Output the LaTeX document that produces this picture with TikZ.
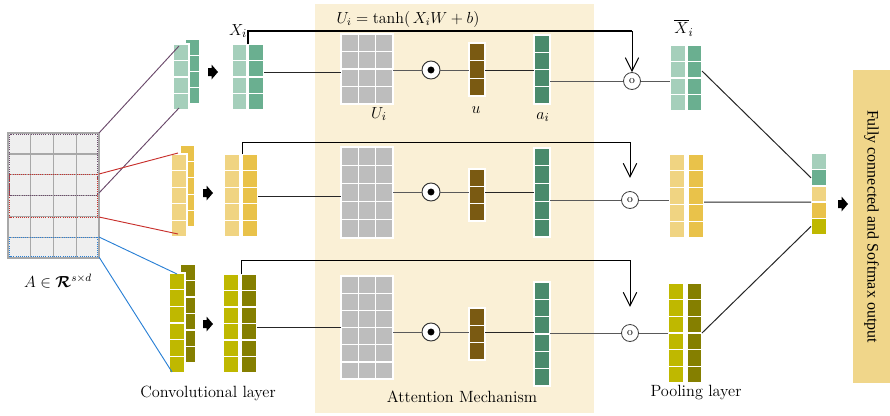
\documentclass[tikz,border=0pt]{standalone}
\usepackage{amsmath,amssymb,bm}
\usepackage{fontspec}
\newfontfamily\timesf{Liberation Serif}
\usetikzlibrary{arrows.meta,calc}
\definecolor{lgreen}{HTML}{A5CFBB}
\definecolor{dgreen}{HTML}{6AAF90}
\definecolor{agreen}{HTML}{4A8A6C}
\definecolor{lyel}{HTML}{F0D482}
\definecolor{dyel}{HTML}{E9C24A}
\definecolor{lolive}{HTML}{BFB800}
\definecolor{dolive}{HTML}{857F00}
\definecolor{ubrown}{HTML}{7A5A12}
\definecolor{ugray}{HTML}{BDBDBD}
\definecolor{attbg}{HTML}{FAF0D6}
\definecolor{fcbg}{HTML}{F0D68A}
\definecolor{acell}{HTML}{EFEFEF}
\definecolor{aline}{HTML}{A8A8A8}
\definecolor{purp}{HTML}{6B4A6B}
\definecolor{redl}{HTML}{C8302C}
\definecolor{bluel}{HTML}{2A80D5}
% column of cells: name, x1, y1, x2, y2, n, colour
\newcommand\cellcol[7]{%
  \node[colbox, fill=#7, minimum width={(#4-#2)*0.75pt}, minimum height={(#5-#3)*0.75pt}] (#1) at ({(#2+#4)/2},{(#3+#5)/2}) {};
  \foreach \k in {1,...,#6}{\ifnum\k<#6\relax \draw[white, line width=1pt] ({#2},{#3+\k*(#5-#3)/#6}) -- ({#4},{#3+\k*(#5-#3)/#6});\fi}%
}
% grid matrix: name, x1, y1, x2, y2, cols, rows, fill, line
\newcommand\gridmat[9]{%
  \node[draw=#9, fill=#8, line width=1pt, inner sep=0pt, outer sep=0pt, minimum width={(#4-#2)*0.75pt}, minimum height={(#5-#3)*0.75pt}] (#1) at ({(#2+#4)/2},{(#3+#5)/2}) {};
  \foreach \k in {1,...,#6}{\ifnum\k<#6\relax \draw[#9, line width=1pt] ({#2+\k*(#4-#2)/#6},{#3}) -- ({#2+\k*(#4-#2)/#6},{#5});\fi}%
  \foreach \k in {1,...,#7}{\ifnum\k<#7\relax \draw[#9, line width=1pt] ({#2},{#3+\k*(#5-#3)/#7}) -- ({#4},{#3+\k*(#5-#3)/#7});\fi}%
}
% block arrow, tip at (x,y)
\newcommand\blockarrow[2]{%
  \fill[black] ({#1-10},{#2-4}) -- ({#1-6.5},{#2-4}) -- ({#1-6.5},{#2-7.5}) -- ({#1},{#2}) -- ({#1-6.5},{#2+7.5}) -- ({#1-6.5},{#2+4}) -- ({#1-10},{#2+4}) -- cycle;%
}
\begin{document}
\begin{tikzpicture}[x=0.75pt,y=-0.75pt,
  colbox/.style={draw=white,line width=1pt,inner sep=0pt,outer sep=0pt},
  conn/.style={draw=black!85,line width=0.75pt},
  topline/.style={draw=black,line width=0.75pt},
  lab/.style={font=\fontsize{12.5}{14}\selectfont,inner sep=0pt},
  txt/.style={font=\fontsize{12.2}{14}\selectfont,inner sep=0pt},
  dotc/.style={circle,draw=black!80,fill=white,line width=0.7pt,minimum size=13.5pt,inner sep=0pt},
  ocirc/.style={circle,draw=black!75,fill=white,line width=0.6pt,minimum size=12.75pt,inner sep=0pt,font=\fontsize{8.5}{8.5}\selectfont},
  barb/.style={-{Straight Barb[length=10pt,width=10pt,line width=0.75pt]}}]
\useasboundingbox (0,0) rectangle (890,415);
% attention background
\fill[attbg] (315,4) rectangle (594,413);
% input matrix A
\gridmat{A}{8}{133}{99}{258}{4}{6}{acell}{aline}
\draw[purp, densely dotted, line width=0.6pt] (9.5,134.5) rectangle (97.5,195);
\draw[redl, densely dotted, line width=0.6pt] (9.5,174) rectangle (97.5,217);
\draw[bluel, densely dotted, line width=0.6pt] (9.5,237) rectangle (97.5,256.5);
% convolutional layer stacks
\cellcol{cb1}{185}{39}{200}{104}{4}{dgreen}
\cellcol{cf1}{173}{44}{189}{110}{4}{lgreen}
\cellcol{cb2}{180}{145}{195}{227}{5}{dyel}
\cellcol{cf2}{171}{154}{187}{237}{5}{lyel}
\cellcol{cb3}{180}{264}{196}{363}{6}{dolive}
\cellcol{cf3}{169}{273}{185}{373}{6}{lolive}
% lines from A to stacks
\draw[purp, line width=0.7pt] (A.north east) -- ($(cf1.north west)+(6,2)$);
\draw[purp, line width=0.7pt] ($(A.north east)+(0,60)$) -- ($(cf1.south west)+(6,-2)$);
\draw[redl, line width=0.7pt] ($(A.north east)+(0,41)$) -- ($(cf2.north west)+(7,-1)$);
\draw[redl, line width=0.7pt] ($(A.north east)+(0,84)$) -- ($(cf2.south west)+(7,-3)$);
\draw[bluel, line width=0.7pt] ($(A.north east)+(0,104)$) -- ($(cf3.north west)+(8,1)$);
\draw[bluel, line width=0.7pt] ($(A.north east)+(0,124)$) -- ($(cf3.south west)+(3,-1)$);
% block arrows
\blockarrow{218}{72}
\blockarrow{213}{193}
\blockarrow{213}{324}
\blockarrow{848}{204}
% X blocks
\cellcol{xl1}{232}{44}{247}{110}{4}{lgreen}
\cellcol{xd1}{248}{44}{264}{110}{4}{dgreen}
\cellcol{xl2}{224}{154}{240}{237}{5}{lyel}
\cellcol{xd2}{242}{154}{258}{237}{5}{dyel}
\cellcol{xl3}{223}{274}{239}{373}{6}{lolive}
\cellcol{xd3}{241}{274}{257}{373}{6}{dolive}
% U matrices
\gridmat{U1}{341}{34}{393}{104}{3}{4}{ugray}{white}
\gridmat{U2}{341}{147}{393}{238}{3}{5}{ugray}{white}
\gridmat{U3}{341}{276}{393}{379}{3}{6}{ugray}{white}
% u vectors
\cellcol{u1}{469}{43}{485}{96}{3}{ubrown}
\cellcol{u2}{469}{169}{485}{221}{3}{ubrown}
\cellcol{u3}{469}{308}{485}{360}{3}{ubrown}
% a vectors
\cellcol{a1}{534}{35}{550}{104}{4}{agreen}
\cellcol{a2}{534}{148}{550}{237}{5}{agreen}
\cellcol{a3}{534}{282}{550}{386}{6}{agreen}
% pooled blocks
\cellcol{pl1}{670}{45}{686}{111}{4}{lgreen}
\cellcol{pd1}{687}{45}{702}{111}{4}{dgreen}
\cellcol{pl2}{669}{154}{685}{238}{5}{lyel}
\cellcol{pd2}{688}{154}{704}{238}{5}{dyel}
\cellcol{pl3}{668}{283}{684}{383}{6}{lolive}
\cellcol{pd3}{687}{283}{702}{383}{6}{dolive}
% final vector
\cellcol{f1}{811}{153.5}{827}{169.7}{1}{lgreen}
\cellcol{f2}{811}{169.7}{827}{185.9}{1}{dgreen}
\cellcol{f3}{811}{185.9}{827}{202.1}{1}{lyel}
\cellcol{f4}{811}{202.1}{827}{218.3}{1}{dyel}
\cellcol{f5}{811}{218.3}{827}{234.5}{1}{lolive}
% circles
\node[dotc] (d1) at (431,70) {};
\node[dotc] (d2) at (431,192) {};
\node[dotc] (d3) at (431,332) {};
\foreach \d in {d1,d2,d3} \fill[black] (\d) circle [radius=2.6pt];
\node[ocirc] (o1) at (632,81) {o};
\node[ocirc] (o2) at (630,200) {o};
\node[ocirc] (o3) at (630,333) {o};
% row 1 connectors
\draw[conn] (xd1.east |- 0,72) -- (U1.west |- 0,72);
\draw[conn, black!65] (U1.east |- d1) -- (d1);
\draw[conn, black!65] (d1) -- (u1.west |- d1);
\draw[conn] (u1.east |- d1) -- (a1.west |- d1);
\draw[conn, black!65] (a1.east |- o1) -- (o1);
\draw[conn, black!65] (o1) -- (pl1.west |- o1);
\draw[black, line width=1.4pt] (xd1.north west) |- (o1.north |- 0,31);
\draw[topline, barb] (o1.north |- 0,31) -- (o1.north);
% row 2 connectors
\draw[conn] (xd2.east |- 0,196) -- (U2.west |- 0,196);
\draw[conn, black!65] (U2.east |- d2) -- (d2);
\draw[conn, black!65] (d2) -- (u2.west |- d2);
\draw[conn] (u2.east |- d2) -- (a2.west |- d2);
\draw[conn, black!65] (a2.east |- o2) -- (o2);
\draw[conn, black!65] (o2) -- (pl2.west |- o2);
\draw[topline] (xd2.north west) |- (o2.north |- 0,142);
\draw[topline, barb, shorten >=10pt] (o2.north |- 0,142) -- (o2.north);
% row 3 connectors
\draw[conn] (xd3.east |- 0,327) -- (U3.west |- 0,327);
\draw[conn, black!65] (U3.east |- d3) -- (d3);
\draw[conn, black!65] (d3) -- (u3.west |- d3);
\draw[conn] (u3.east |- d3) -- (a3.west |- d3);
\draw[conn, black!65] (a3.east |- o3) -- (o3);
\draw[conn, black!65] (o3) -- (pl3.west |- o3);
\draw[topline] (xd3.north west) |- (o3.north |- 0,260);
\draw[topline, barb, shorten >=13pt] (o3.north |- 0,260) -- (o3.north);
% pooled to final
\draw[conn] (pd1.east |- 0,71) -- (f2.west);
\draw[conn] (pd2.east |- 0,202) -- (f3.south west);
\draw[conn] (pd3.east |- 0,333) -- (f5.west);
% FC box
\node[fill=fcbg, rotate=-90, minimum width=234.75pt, minimum height=27.75pt, inner sep=0pt, font=\timesf\fontsize{12}{14}\selectfont] (fc) at (871.5,226.5) {Fully connected and Softmax output};
% labels
\node[lab] (lX1) at (238,31) {$X_i$};
\node[lab, font=\fontsize{12}{14}\selectfont] (leq) at (408,19) {$U_i = \tanh(\,X_iW + b)$};
\node[lab] (lU) at (379,114) {$U_i$};
\node[lab] (lu) at (476,110) {$u$};
\node[lab] (la) at (543,117) {$a_i$};
\node[lab] (lXb) at (684,28) {$\overline{X}_i$};
\node[lab, font=\fontsize{11.5}{14}\selectfont] (lA) at (58,281) {$A \in \boldsymbol{\mathcal{R}}^{s\times d}$};
\node[txt] (lconv) at (208,393) {Convolutional layer};
\node[txt] (latt) at (462,397) {Attention Mechanism};
\node[txt] (lpool) at (696,393) {Pooling layer};
\end{tikzpicture}
\end{document}
